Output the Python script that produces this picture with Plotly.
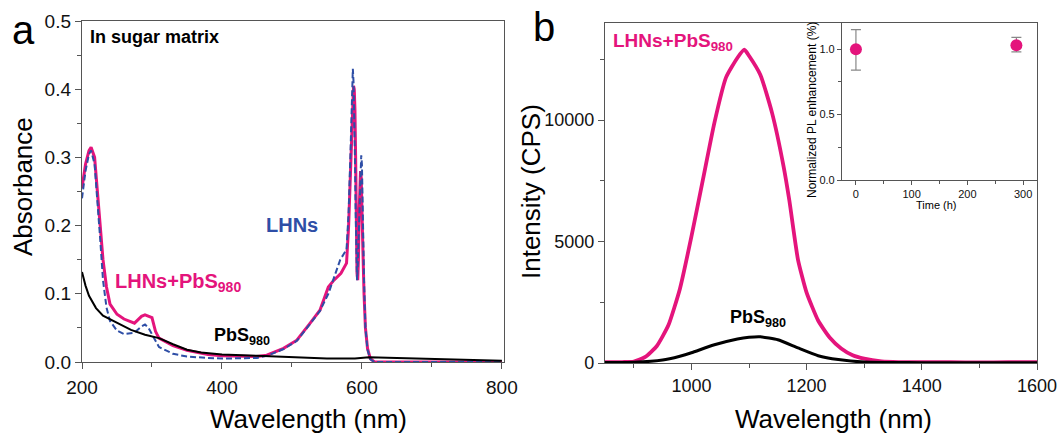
import plotly.graph_objects as go

# ---------------- data ----------------
# Panel a: absorbance spectra (in sugar matrix)
abs_wl_pbs = [200, 205, 210, 220, 230, 250, 270, 290, 310, 330, 350, 370, 400, 450, 500, 550, 590, 610, 650, 700, 750, 800]
abs_pbs = [0.132, 0.112, 0.097, 0.079, 0.068, 0.058, 0.047, 0.040, 0.035, 0.026, 0.018, 0.014, 0.011, 0.009, 0.007, 0.005, 0.005, 0.007, 0.006, 0.005, 0.003, 0.002]

abs_wl_mix = [200, 205, 210, 213, 218, 222, 226, 230, 235, 240, 250, 260, 275, 285, 290, 295, 300, 305, 310, 330, 350, 380, 400, 450, 464, 488, 507, 526, 540, 552, 560, 570, 578, 581, 584, 586, 588, 589, 590, 591, 592, 593, 594, 595, 596, 597, 598, 599, 600, 601, 603, 605, 608, 612, 618, 650, 700, 800]
abs_mix = [0.255, 0.29, 0.31, 0.315, 0.30, 0.25, 0.20, 0.15, 0.11, 0.085, 0.070, 0.063, 0.057, 0.067, 0.069, 0.067, 0.065, 0.045, 0.035, 0.024, 0.017, 0.011, 0.009, 0.008, 0.010, 0.020, 0.032, 0.057, 0.076, 0.110, 0.120, 0.130, 0.145, 0.20, 0.30, 0.37, 0.405, 0.40, 0.37, 0.30, 0.20, 0.13, 0.12, 0.15, 0.22, 0.27, 0.28, 0.27, 0.24, 0.18, 0.10, 0.05, 0.02, 0.005, 0.0, 0.0, 0.0, 0.0]

abs_wl_lhn = [200, 205, 210, 213, 218, 222, 226, 230, 235, 240, 250, 260, 275, 285, 290, 295, 300, 305, 310, 330, 350, 380, 400, 450, 464, 488, 507, 526, 540, 552, 560, 569, 578, 581, 584, 586, 587, 588, 589, 590, 591, 592, 593, 594, 596, 598, 599, 600, 601, 603, 605, 608, 612, 618, 650, 700, 800]
abs_lhn = [0.24, 0.28, 0.305, 0.31, 0.29, 0.24, 0.18, 0.12, 0.08, 0.06, 0.046, 0.041, 0.043, 0.052, 0.055, 0.050, 0.040, 0.030, 0.022, 0.012, 0.008, 0.006, 0.005, 0.006, 0.009, 0.019, 0.031, 0.056, 0.075, 0.100, 0.125, 0.150, 0.165, 0.22, 0.32, 0.40, 0.43, 0.41, 0.37, 0.30, 0.22, 0.15, 0.12, 0.14, 0.22, 0.29, 0.303, 0.29, 0.22, 0.12, 0.05, 0.018, 0.004, 0.0, 0.0, 0.0, 0.0]

# Panel b: PL spectra
pl_wl_mix = [850, 880, 900, 920, 940, 960, 980, 1000, 1020, 1040, 1060, 1080, 1092, 1100, 1120, 1140, 1160, 1170, 1185, 1200, 1220, 1240, 1260, 1280, 1300, 1330, 1360, 1400, 1450, 1500, 1550, 1600]
pl_mix = [30, 40, 60, 250, 700, 1550, 3050, 5200, 7550, 9900, 11750, 12570, 12900, 12650, 11850, 10300, 8100, 6700, 4260, 2900, 1750, 1050, 600, 320, 180, 70, 40, 30, 30, 25, 30, 30]

pl_wl_pbs = [850, 900, 950, 980, 1000, 1040, 1080, 1100, 1120, 1150, 1185, 1220, 1255, 1300, 1350, 1400, 1500, 1600]
pl_pbs = [20, 30, 120, 280, 420, 750, 990, 1060, 1080, 960, 620, 300, 140, 40, 20, 15, 10, 10]

# Inset: normalized PL enhancement vs time
inset_time = [0, 288]
inset_val = [1.0, 1.03]
inset_err_plus = [0.15, 0.06]
inset_err_minus = [0.16, 0.05]

# tick labels
a_xticks = [200, 400, 600, 800]
a_yticks = [0.0, 0.1, 0.2, 0.3, 0.4, 0.5]
b_xticks = [1000, 1200, 1400, 1600]
b_yticks = [0, 5000, 10000]
in_xticks = [0, 100, 200, 300]
in_yticks = [0.0, 0.5, 1.0]

# ---------------- styling ----------------
W, H = 1059, 436
def px(x):
    return x / W
def py(y):
    return 1 - y / H

PINK = '#E4147C'
BLUE = '#2E4EA6'
AXC = '#555555'
FONT = 'Liberation Sans, Arial, sans-serif'

fig = go.Figure()

# panel a
fig.add_trace(go.Scatter(x=abs_wl_mix, y=abs_mix, mode='lines', line=dict(color=PINK, width=3),
                         xaxis='x', yaxis='y'))
fig.add_trace(go.Scatter(x=abs_wl_lhn, y=abs_lhn, mode='lines', line=dict(color=BLUE, width=2, dash='6px,3px'),
                         xaxis='x', yaxis='y'))
fig.add_trace(go.Scatter(x=abs_wl_pbs, y=abs_pbs, mode='lines', line=dict(color='black', width=2),
                         xaxis='x', yaxis='y'))
# panel b
fig.add_trace(go.Scatter(x=pl_wl_mix, y=pl_mix, mode='lines', line=dict(color=PINK, width=3.8, shape='spline', smoothing=0.5),
                         xaxis='x2', yaxis='y2'))
fig.add_trace(go.Scatter(x=pl_wl_pbs, y=pl_pbs, mode='lines', line=dict(color='black', width=3, shape='spline', smoothing=0.5),
                         xaxis='x2', yaxis='y2'))
# inset
fig.add_trace(go.Scatter(x=inset_time, y=inset_val, mode='markers',
                         marker=dict(color=PINK, size=12),
                         error_y=dict(type='data', array=inset_err_plus, arrayminus=inset_err_minus,
                                      color='#888888', thickness=1.2, width=5),
                         xaxis='x3', yaxis='y3'))

def ax(**kw):
    base = dict(showline=True, linecolor=AXC, linewidth=1.4, mirror=True, ticks='outside',
                tickcolor=AXC, tickwidth=1.3, ticklen=6, showgrid=False, zeroline=False,
                automargin=False,
                tickfont=dict(family=FONT, size=18, color='#111'))
    base.update(kw)
    return base

fig.update_layout(
    width=W, height=H, margin=dict(l=0, r=0, t=0, b=0, autoexpand=False),
    paper_bgcolor='white', plot_bgcolor='rgba(0,0,0,0)', showlegend=False,
    font=dict(family=FONT, color='black'),
    xaxis=ax(domain=[px(82), px(504)], range=[200, 803], anchor='y', tickmode='array', tickvals=a_xticks,
             tickfont=dict(family=FONT, size=19, color='#111'), ticklabelstandoff=2,
             minor=dict(tickmode='array', tickvals=[300, 500, 700], ticks='outside', ticklen=4, tickcolor=AXC)),
    yaxis=ax(domain=[py(362), py(21)], range=[0, 0.5], anchor='x', tickmode='array', tickvals=a_yticks,
             tickformat='.1f', tickfont=dict(family=FONT, size=19, color='#111'),
             minor=dict(tickmode='array', tickvals=[0.05, 0.15, 0.25, 0.35, 0.45], ticks='outside', ticklen=4, tickcolor=AXC)),
    xaxis2=ax(domain=[px(605), px(1037)], range=[850, 1600], anchor='y2', tickmode='array', tickvals=b_xticks,
              tickformat='d',
              minor=dict(tickmode='array', tickvals=[900, 1100, 1300, 1500], ticks='outside', ticklen=4, tickcolor=AXC)),
    yaxis2=ax(domain=[py(363), py(23)], range=[0, 14000], anchor='x2', tickmode='array', tickvals=b_yticks,
              tickformat='d',
              minor=dict(tickmode='array', tickvals=[2500, 7500, 12500], ticks='outside', ticklen=4, tickcolor=AXC)),
    xaxis3=ax(domain=[px(842), px(1037)], range=[-25, 325], anchor='y3', tickmode='array', tickvals=in_xticks,
              ticklen=4, tickwidth=1, linewidth=1.2, tickfont=dict(family=FONT, size=11, color='#111'),
              minor=dict(tickmode='array', tickvals=[50, 150, 250], ticks='outside', ticklen=3, tickcolor=AXC)),
    yaxis3=ax(domain=[py(180), py(23)], range=[0, 1.2], anchor='x3', tickmode='array', tickvals=in_yticks,
              tickformat='.1f', ticklen=4, tickwidth=1, linewidth=1.2, tickfont=dict(family=FONT, size=11, color='#111'),
              minor=dict(tickmode='array', tickvals=[0.25, 0.75], ticks='outside', ticklen=3, tickcolor=AXC)),
)

def ann(text, x, y, size, color='black', bold=False, xanchor='center', yanchor='middle', angle=0):
    t = f'<b>{text}</b>' if bold else text
    fig.add_annotation(text=t, x=px(x), y=py(y), xref='paper', yref='paper', showarrow=False,
                       xanchor=xanchor, yanchor=yanchor, textangle=angle,
                       font=dict(family=FONT, size=size, color=color))

# panel labels
ann('a', 23, 30, 40)
ann('b', 544, 27, 40)
# axis titles
ann('Absorbance', 23, 187, 26, angle=-90)
ann('Wavelength (nm)', 308, 419, 26)
ann('Intensity (CPS)', 531, 192, 26, angle=-90)
ann('Wavelength (nm)', 833, 419, 26)
ann('Normalized PL enhancement (%)', 812, 110, 12, angle=-90)
ann('Time (h)', 936, 205, 11)
# series labels
ann('In sugar matrix', 88, 37, 18, bold=True, xanchor='left')
ann('LHNs', 292, 225, 20, color=BLUE, bold=True)
ann('LHNs+PbS<sub>980</sub>', 113, 282, 20, color=PINK, bold=True, xanchor='left')
ann('PbS<sub>980</sub>', 212, 336, 18, bold=True, xanchor='left')
ann('LHNs+PbS<sub>980</sub>', 611, 42, 19, color=PINK, bold=True, xanchor='left')
ann('PbS<sub>980</sub>', 728, 318, 18, bold=True, xanchor='left')

fig.write_html('out.html', config={'displayModeBar': False},
               post_script="document.body.style.margin='0px';document.body.style.overflow='hidden';")
